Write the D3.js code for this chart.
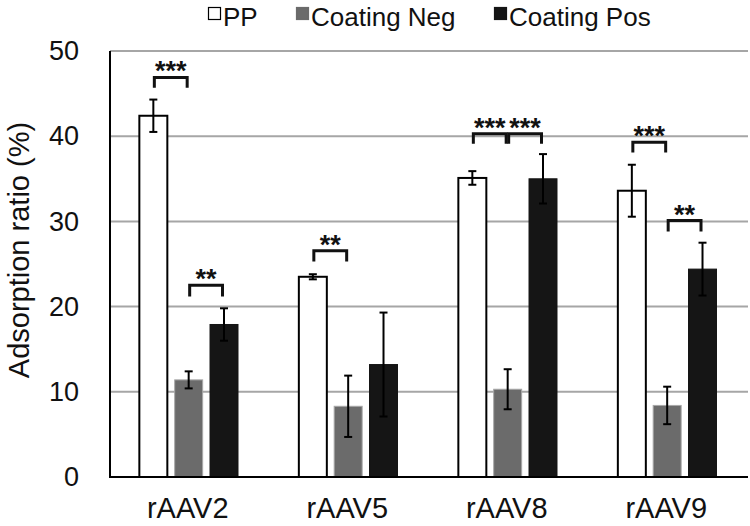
<!DOCTYPE html>
<html>
<head>
<meta charset="utf-8">
<script src="https://cdn.jsdelivr.net/npm/d3@7"></script>
<style>
  html, body { margin: 0; padding: 0; background: #fff; }
  svg { display: block; font-family: "Liberation Sans", Arial, sans-serif; }
</style>
</head>
<body>
<svg id="chart" width="750" height="526"></svg>
<script>
// ---- data ----
const categories = ["rAAV2", "rAAV5", "rAAV8", "rAAV9"];
const seriesNames = ["PP", "Coating Neg", "Coating Pos"];
const ppValues   = [42.4, 23.5, 35.1, 33.6];
const ppErrors   = [1.9, 0.3, 0.8, 3.05];
const negValues  = [11.4, 8.3, 10.3, 8.4];
const negErrors  = [1.0, 3.6, 2.35, 2.2];
const posValues  = [17.9, 13.2, 35.0, 24.4];
const posErrors  = [1.9, 6.1, 2.9, 3.1];
const yTicks = [0, 10, 20, 30, 40, 50];
// significance brackets: category, from-series index, to-series index, top value, leg-end value, label
const sigCats   = ["rAAV2", "rAAV2", "rAAV5", "rAAV8", "rAAV8", "rAAV9", "rAAV9"];
const sigFrom   = [0, 1, 0, 0, 1, 0, 1];
const sigTo     = [1, 2, 1, 1, 2, 1, 2];
const sigTop    = [46.9, 22.5, 26.55, 40.3, 40.3, 39.3, 30.1];
const sigLeg    = [45.7, 21.2, 25.3, 39.1, 39.1, 38.1, 28.8];
const sigLabels = ["***", "**", "**", "***", "***", "***", "**"];

(function () {
const values = [ppValues, negValues, posValues];
const errors = [ppErrors, negErrors, posErrors];
const colors = ["#ffffff", "#6b6b6b", "#151515"];
const strokes = ["#000000", "#a8a8a8", "#151515"];

// ---- layout ----
const svg = d3.select("#chart");
const mLeft = 110, mRight = 748, mTop = 51, mBottom = 477;

const x0 = d3.scaleBand().domain(categories).range([mLeft, mRight]).padding(0);
const bw0 = x0.bandwidth();
const x1 = d3.scaleBand().domain(seriesNames)
  .range([bw0 * 0.184, bw0 * 0.8025]).paddingInner(0.208).paddingOuter(0);
const y = d3.scaleLinear().domain([0, 50]).range([mBottom, mTop]);

// gridlines
svg.append("g").selectAll("line").data(yTicks.filter(d => d > 0)).join("line")
  .attr("x1", mLeft).attr("x2", mRight)
  .attr("y1", d => y(d)).attr("y2", d => y(d))
  .attr("stroke", "#a6a6a6").attr("stroke-width", 2);

// y axis labels
const yAxis = d3.axisLeft(y).tickValues(yTicks).tickSize(0).tickPadding(31).tickFormat(d3.format("d"));
const gy = svg.append("g").attr("transform", `translate(${mLeft},0)`).call(yAxis);
gy.select(".domain").remove();
gy.selectAll("text").attr("font-size", 27).attr("fill", "#111")
  .attr("font-family", "'Liberation Sans', Arial, sans-serif");

// y title
svg.append("text")
  .attr("transform", `translate(29,${(mTop + mBottom) / 2 - 14}) rotate(-90)`)
  .attr("text-anchor", "middle")
  .attr("font-size", 29).attr("fill", "#111")
  .text("Adsorption ratio (%)");

// bars
const bars = [];
categories.forEach((c, ci) => {
  seriesNames.forEach((s, si) => {
    bars.push({ c, s, si, v: values[si][ci], e: errors[si][ci] });
  });
});

svg.append("g").selectAll("rect").data(bars).join("rect")
  .attr("x", d => x0(d.c) + x1(d.s))
  .attr("y", d => y(d.v))
  .attr("width", x1.bandwidth())
  .attr("height", d => y(0) - y(d.v))
  .attr("fill", d => colors[d.si])
  .attr("stroke", d => strokes[d.si])
  .attr("stroke-width", d => d.si === 0 ? 2 : 1);

// error bars
const eg = svg.append("g").attr("stroke", "#000").attr("stroke-width", 2);
bars.forEach(d => {
  const cx = x0(d.c) + x1(d.s) + x1.bandwidth() / 2;
  const y1 = y(d.v + d.e), y2 = y(d.v - d.e);
  eg.append("line").attr("x1", cx).attr("x2", cx).attr("y1", y1).attr("y2", y2);
  eg.append("line").attr("x1", cx - 4).attr("x2", cx + 4).attr("y1", y1).attr("y2", y1);
  eg.append("line").attr("x1", cx - 4).attr("x2", cx + 4).attr("y1", y2).attr("y2", y2);
});

// axes lines
svg.append("line").attr("x1", mLeft).attr("x2", mLeft).attr("y1", mTop).attr("y2", mBottom)
  .attr("stroke", "#000").attr("stroke-width", 2);
svg.append("line").attr("x1", mLeft - 1).attr("x2", mRight).attr("y1", y(0)).attr("y2", y(0))
  .attr("stroke", "#000").attr("stroke-width", 2);

// x labels
const xAxis = d3.axisBottom(x0).tickSize(0).tickPadding(20);
const gx = svg.append("g").attr("transform", `translate(-2,${mBottom})`).call(xAxis);
gx.select(".domain").remove();
gx.selectAll("text").attr("font-size", 29).attr("fill", "#111")
  .attr("font-family", "'Liberation Sans', Arial, sans-serif");

// significance brackets
const sg = svg.append("g");
sigCats.forEach((c, i) => {
  const xa = x0(c) + x1(seriesNames[sigFrom[i]]) + x1.bandwidth() / 2 + 1;
  const xb = x0(c) + x1(seriesNames[sigTo[i]]) + x1.bandwidth() / 2 - 1.5;
  const yt = y(sigTop[i]), yl = y(sigLeg[i]);
  sg.append("path")
    .attr("d", `M${xa},${yl}V${yt}H${xb}V${yl}`)
    .attr("fill", "none").attr("stroke", "#111").attr("stroke-width", 3);
  sg.append("text")
    .attr("x", (xa + xb) / 2).attr("y", yt + 3)
    .attr("text-anchor", "middle")
    .attr("font-size", 27).attr("font-weight", "bold").attr("fill", "#111")
    .text(sigLabels[i]);
});

// legend
const legendX = [208, 296, 494];
const lg = svg.append("g");
seriesNames.forEach((s, i) => {
  lg.append("rect").attr("x", legendX[i] + 0.5).attr("y", 7.5).attr("width", 12).attr("height", 12)
    .attr("fill", colors[i]).attr("stroke", i === 0 ? "#000" : colors[i]).attr("stroke-width", 1.2);
  lg.append("text").attr("x", legendX[i] + 15).attr("y", 26)
    .attr("font-size", 26).attr("fill", "#111").text(s);
});
})();
</script>
</body>
</html>
